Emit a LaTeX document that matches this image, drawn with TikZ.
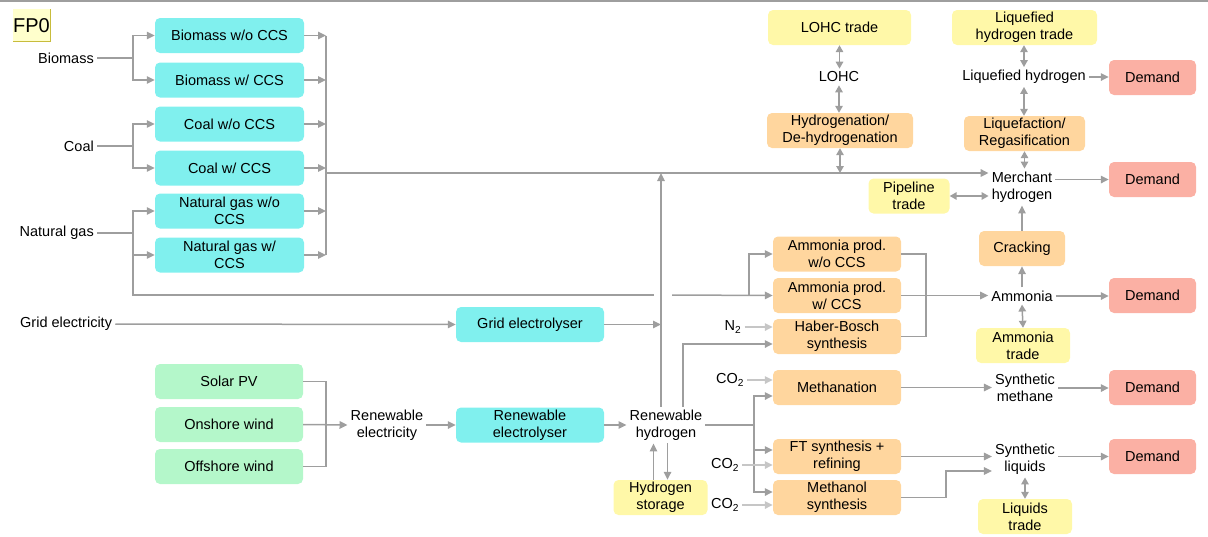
\documentclass[tikz,border=0pt]{standalone}
\usepackage{fontspec}
\setmainfont{Liberation Sans}
\usetikzlibrary{arrows.meta}
\definecolor{cy}{HTML}{80F0EE}
\definecolor{gr}{HTML}{B4F7CA}
\definecolor{orb}{HTML}{FFD69E}
\definecolor{yl}{HTML}{FFF8A8}
\definecolor{rd}{HTML}{FBB0A4}
\definecolor{lg}{HTML}{9E9E9E}
\definecolor{llg}{HTML}{C6C6C6}
\definecolor{fpy}{HTML}{FFFFCC}
\definecolor{fpb}{HTML}{C8BC3C}
\newcommand\dfont{\fontsize{14.5}{17}\selectfont}
\begin{document}
\begin{tikzpicture}[x=1pt,y=-1pt,
  ln/.style={draw=lg, line width=1.5pt},
  arr/.style={ln, -{Triangle[length=8pt,width=7.5pt]}},
  darr/.style={ln, {Triangle[length=7pt,width=7.5pt]}-{Triangle[length=7pt,width=7.5pt]}},
  larr/.style={draw=llg, line width=1.5pt, -{Triangle[length=8pt,width=7.5pt]}},
  box/.style={rounded corners=5pt, inner sep=0pt, align=center, font=\dfont, minimum height=35pt},
  cbox/.style={box, fill=cy},
  gbox/.style={box, fill=gr},
  obox/.style={box, fill=orb},
  ybox/.style={box, fill=yl},
  rbox/.style={box, fill=rd, minimum width=87pt},
  lbl/.style={inner sep=3pt, align=center, font=\dfont},
]
\useasboundingbox (0,0) rectangle (1208,536);
\draw[lg, line width=1.5pt] (0,1) -- (1208,1);
% FP0 tag
\fill[fpy] (13,9) rectangle (50,41);
\draw[fpb, line width=1pt] (50,9) -- (50,41) -- (13,41);
\node[inner sep=0pt, font=\fontsize{20}{22}\selectfont] (fp) at (31.5,25.5) {FP0};

% cyan boxes
\node[cbox, minimum width=149pt] (bwo) at (229.5,35.5) {Biomass w/o CCS};
\node[cbox, minimum width=149pt] (bw) at (229.5,80) {Biomass w/ CCS};
\node[cbox, minimum width=149pt] (cwo) at (229.5,124) {Coal w/o CCS};
\node[cbox, minimum width=149pt] (cw) at (229.5,168) {Coal w/ CCS};
\node[cbox, minimum width=149pt] (nwo) at (229.5,211) {Natural gas w/o\\CCS};
\node[cbox, minimum width=149pt] (nw) at (229.5,255) {Natural gas w/\\CCS};
\node[cbox, minimum width=148pt] (ge) at (530,324.5) {Grid electrolyser};
\node[cbox, minimum width=148pt] (re) at (530,425) {Renewable\\electrolyser};
% green boxes
\node[gbox, minimum width=148pt] (spv) at (229,381.5) {Solar PV};
\node[gbox, minimum width=148pt] (onw) at (229,424.5) {Onshore wind};
\node[gbox, minimum width=148pt] (ofw) at (229,466.5) {Offshore wind};
% yellow boxes
\node[ybox, minimum width=143pt] (lohct) at (839.5,27.5) {LOHC trade};
\node[ybox, minimum width=145pt] (lht) at (1024.5,27.5) {Liquefied\\hydrogen trade};
\node[ybox, minimum width=81pt] (pt) at (909,196) {Pipeline\\trade};
\node[ybox, minimum width=94pt] (amt) at (1023,345.5) {Ammonia\\trade};
\node[ybox, minimum width=94pt] (lqt) at (1025,516.5) {Liquids\\trade};
\node[ybox, minimum width=94pt] (hs) at (660.5,497.5) {Hydrogen\\storage};
% orange boxes
\node[obox, minimum width=146pt] (hyd) at (840,130.5) {Hydrogenation/\\De-hydrogenation};
\node[obox, minimum width=121pt] (liq) at (1024.5,133.5) {Liquefaction/\\Regasification};
\node[obox, minimum width=86pt] (crk) at (1022,248.5) {Cracking};
\node[obox, minimum width=128pt] (awo) at (837,254) {Ammonia prod.\\w/o CCS};
\node[obox, minimum width=128pt] (aw) at (837,295.5) {Ammonia prod.\\w/ CCS};
\node[obox, minimum width=128pt] (hb) at (837,336.5) {Haber-Bosch\\synthesis};
\node[obox, minimum width=128pt] (meth) at (837,387.5) {Methanation};
\node[obox, minimum width=128pt] (ft) at (837,456.5) {FT synthesis +\\refining};
\node[obox, minimum width=128pt] (mol) at (837,497.5) {Methanol\\synthesis};
% demand boxes
\node[rbox] (d1) at (1152.5,77.5) {Demand};
\node[rbox] (d2) at (1152.5,179.5) {Demand};
\node[rbox] (d3) at (1152.5,295.5) {Demand};
\node[rbox] (d4) at (1152.5,387.5) {Demand};
\node[rbox] (d5) at (1152.5,456.5) {Demand};
% plain labels
\node[lbl, anchor=east] (bio) at (97,58) {Biomass};
\node[lbl, anchor=east] (coal) at (97,146) {Coal};
\node[lbl, anchor=east] (ng) at (97,233) {Natural gas};
\node[lbl, anchor=west] (gel) at (17,324) {Grid electricity};
\node[lbl] (rel) at (387,425) {Renewable\\electricity};
\node[lbl] (rh) at (666,425) {Renewable\\hydrogen};
\node[lbl] (lohc) at (839,77) {LOHC};
\node[lbl] (lh) at (1024,77) {Liquefied hydrogen};
\node[lbl] (mh) at (1022,187) {Merchant\\hydrogen};
\node[lbl] (amm) at (1022,296) {Ammonia};
\node[lbl] (sm) at (1025,388) {Synthetic\\methane};
\node[lbl] (sl) at (1025,459) {Synthetic\\liquids};
\node[lbl] (n2) at (733,327) {N\textsubscript{2}};
\node[lbl] (co1) at (730,380) {CO\textsubscript{2}};
\node[lbl] (co2) at (725,465) {CO\textsubscript{2}};
\node[lbl] (co3) at (725,505) {CO\textsubscript{2}};

% junction coordinates
\coordinate (jb) at (133,58);
\coordinate (jc) at (133,146);
\coordinate (jn) at (133,233);
\coordinate (jnb) at (133,295);
\coordinate (gap1) at (654,295);
\coordinate (gap2) at (672,295);
\coordinate (ja) at (749,295);
\coordinate (col) at (326,173);
\coordinate (vh) at (661,173);
\coordinate (jr) at (326,424.5);
\coordinate (hbj) at (683,344);
\coordinate (jh) at (754,425);

% left feeds
\draw[ln] (bio.east) -- (jb);
\draw[arr] (jb) |- (bwo.west);
\draw[arr] (jb) |- (bw.west);
\draw[ln] (coal.east) -- (jc);
\draw[arr] (jc) |- (cwo.west);
\draw[arr] (jc) |- (cw.west);
\draw[ln] (ng.east) -- (jn);
\draw[arr] (jn) |- (nwo.west);
\draw[arr] (jn) |- (nw.west);
\draw[ln] (jn) -- (jnb) -- (gap1);
\draw[arr] (gap2) -- (aw.west);
\draw[arr] (ja) |- (awo.west);
% collector
\foreach \n in {bwo,bw,cwo,cw,nwo,nw} \draw[arr] (\n.east) -- (\n.east -| col);
\draw[ln] (bwo.east -| col) -- (nw.east -| col);
\draw[arr] (col) -- (col -| mh.west);
% electrolysers
\draw[arr] (gel.east) -- (ge.west);
\draw[arr] (ge.east) -- (ge.east -| vh);
\draw[arr] (rh.north -| vh) -- (vh);
\draw[ln] (spv.east) -| (jr);
\draw[ln] (ofw.east) -| (jr);
\draw[arr] (onw.east) -- (rel.west);
\draw[arr] (rel.east) -- (re.west);
\draw[arr] (re.east) -- (rh.west);
\draw[arr] ([xshift=-7pt]hs.north) -- ([xshift=-7pt]hs.north |- rh.south);
\draw[arr] ([xshift=7pt]hs.north |- rh.south) -- ([xshift=7pt]hs.north);
\draw[arr] (rh.north -| hbj) |- ([yshift=-7.5pt]hb.west);
\draw[ln] (rh.east) -- (jh);
\draw[arr] (jh) |- ([yshift=-8.5pt]meth.west);
\draw[arr] (jh) |- ([yshift=6.5pt]ft.west);
\draw[arr] (jh) |- ([yshift=5.5pt]mol.west);
\draw[larr] (n2.east) -- (n2.east -| hb.west);
\draw[larr] (co1.east) -- (co1.east -| meth.west);
\draw[larr] (co2.east) -- (co2.east -| ft.west);
\draw[larr] (co3.east) -- (co3.east -| mol.west);
% ammonia
\draw[ln] (awo.east) -- ++(25,0) |- (hb.east);
\draw[arr] (aw.east) -- (aw.east -| amm.west);
\draw[arr] (amm.north) -- (crk.south);
\draw[arr] (crk.north) -- (mh.south);
\draw[darr] (amm.south) -- (amt.north);
\draw[arr] (amm.east) -- (amm.east -| d3.west);
% synthetic fuels
\draw[arr] (meth.east) -- (meth.east -| sm.west);
\draw[arr] (sm.east) -- (sm.east -| d4.west);
\draw[arr] (ft.east) -- (ft.east -| sl.west);
\draw[arr] (mol.east) -- ++(45,0) |- ([yshift=-12pt]sl.west);
\draw[arr] (sl.east |- d5.west) -- (d5.west);
\draw[darr] (sl.south) -- (lqt.north -| sl.south);
% top
\draw[darr] (lohct.south) -- (lohc.north -| lohct.south);
\draw[darr] (lohc.south) -- (hyd.north -| lohc.south);
\draw[darr] (hyd.south) -- (hyd.south |- col);
\draw[darr] (lht.south -| lh.north) -- (lh.north);
\draw[darr] (lh.south) -- (liq.north -| lh.south);
\draw[darr] (liq.south) -- (liq.south |- mh.north);
\draw[arr] (lh.east) -- (lh.east -| d1.west);
\draw[arr] (mh.east |- d2.west) -- (d2.west);
\draw[darr] (pt.east) -- (pt.east -| mh.west);
\end{tikzpicture}
\end{document}
